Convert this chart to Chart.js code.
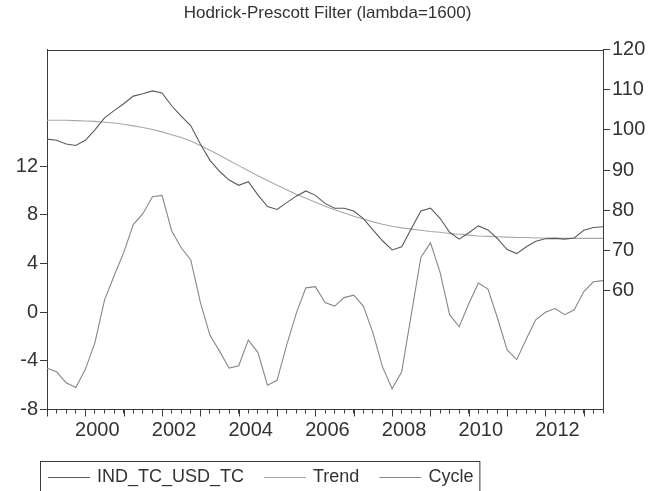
<!DOCTYPE html>
<html><head><meta charset="utf-8">
<script src="https://cdn.jsdelivr.net/npm/chart.js@4/dist/chart.umd.min.js"></script>
<style>html,body{margin:0;padding:0;background:#fff}#wrap{width:655px;height:491px}</style>
</head><body><div id="wrap"><canvas id="c" width="655" height="491"></canvas></div>
<script>
const quarters = [
 '1999Q1','1999Q2','1999Q3','1999Q4','2000Q1','2000Q2','2000Q3','2000Q4',
 '2001Q1','2001Q2','2001Q3','2001Q4','2002Q1','2002Q2','2002Q3','2002Q4',
 '2003Q1','2003Q2','2003Q3','2003Q4','2004Q1','2004Q2','2004Q3','2004Q4',
 '2005Q1','2005Q2','2005Q3','2005Q4','2006Q1','2006Q2','2006Q3','2006Q4',
 '2007Q1','2007Q2','2007Q3','2007Q4','2008Q1','2008Q2','2008Q3','2008Q4',
 '2009Q1','2009Q2','2009Q3','2009Q4','2010Q1','2010Q2','2010Q3','2010Q4',
 '2011Q1','2011Q2','2011Q3','2011Q4','2012Q1','2012Q2','2012Q3','2012Q4',
 '2013Q1','2013Q2','2013Q3'];
const yearLabels = ['2000','2002','2004','2006','2008','2010','2012'];
const leftTicks = [-8,-4,0,4,8,12];
const rightTicks = [60,70,80,90,100,110,120];

const seriesValues = [
 97.7, 97.4, 96.5, 96.1, 97.4, 100.0, 103.0, 104.8, 106.5, 108.4,
 109.0, 109.7, 109.2, 106.0, 103.4, 101.0, 96.5, 92.4, 89.7, 87.5,
 86.2, 87.1, 83.8, 80.9, 80.2, 81.9, 83.5, 84.8, 83.7, 81.7,
 80.5, 80.5, 79.8, 77.9, 75.1, 72.4, 70.1, 70.9, 75.4, 79.8,
 80.5, 78.0, 74.5, 72.8, 74.4, 76.1, 75.1, 72.9, 70.2, 69.2,
 70.9, 72.3, 72.9, 73.0, 72.8, 73.1, 75.0, 75.7, 75.9];
const trendValues = [
 102.4, 102.4, 102.4, 102.3, 102.2, 102.1, 101.9, 101.7, 101.4, 101.0,
 100.6, 100.1, 99.5, 98.8, 98.1, 97.2, 96.1, 94.9, 93.7, 92.4,
 91.1, 89.8, 88.6, 87.4, 86.2, 85.1, 84.0, 83.0, 82.0, 81.0,
 80.1, 79.3, 78.5, 77.8, 77.1, 76.5, 76.0, 75.6, 75.3, 75.0,
 74.7, 74.5, 74.2, 74.0, 73.8, 73.6, 73.5, 73.4, 73.3, 73.2,
 73.2, 73.1, 73.1, 73.1, 73.0, 73.0, 73.0, 73.0, 73.0];
const cycleValues = [
 -4.6, -4.9, -5.8, -6.2, -4.7, -2.5, 1.0, 3.0, 4.9, 7.2,
 8.1, 9.5, 9.6, 6.7, 5.3, 4.3, 0.8, -1.9, -3.2, -4.6,
 -4.4, -2.3, -3.3, -6.0, -5.6, -2.7, -0.1, 2.0, 2.1, 0.8,
 0.5, 1.2, 1.4, 0.5, -1.7, -4.5, -6.3, -4.9, -0.2, 4.5,
 5.7, 3.3, -0.2, -1.2, 0.7, 2.4, 1.9, -0.5, -3.1, -3.9,
 -2.2, -0.6, 0.0, 0.3, -0.2, 0.2, 1.7, 2.5, 2.6];

const FONT = "'Liberation Sans', Arial, Helvetica, sans-serif";
const AX = '#3a3a3a';
const TXT = '#333333';
Chart.defaults.font.family = FONT;
Chart.defaults.color = TXT;

const framePlugin = {
  id: 'frame',
  afterDraw(chart) {
    const {ctx, chartArea: a, scales} = chart;
    ctx.save();
    ctx.strokeStyle = AX; ctx.lineWidth = 1;
    ctx.beginPath();
    ctx.moveTo(a.left, Math.round(a.top) + 0.5);
    ctx.lineTo(a.right, Math.round(a.top) + 0.5);
    ctx.stroke();
    // major (year) tick marks
    const xs = scales.x;
    ctx.beginPath();
    quarters.forEach((q, i) => {
      if (q.endsWith('Q1')) {
        const px = Math.round(xs.getPixelForValue(i)) + 0.5;
        ctx.moveTo(px, a.bottom);
        ctx.lineTo(px, a.bottom + 7);
      }
    });
    ctx.stroke();
    // legend
    const y = 477;
    let x = 48;
    ctx.font = '18px ' + FONT;
    ctx.textBaseline = 'middle';
    ctx.textAlign = 'left';
    chart.data.datasets.forEach((ds) => {
      ctx.strokeStyle = ds.borderColor; ctx.lineWidth = 1.2;
      ctx.beginPath(); ctx.moveTo(x, y + 0.5); ctx.lineTo(x + 42, y + 0.5); ctx.stroke();
      ctx.fillStyle = TXT;
      ctx.fillText(ds.label, x + 49, y);
      x += 49 + ctx.measureText(ds.label).width + 20;
    });
    ctx.strokeStyle = AX; ctx.lineWidth = 1;
    ctx.strokeRect(40.5, 461.5, x - 20 + 6 - 40, 40);
    ctx.restore();
  }
};

new Chart(document.getElementById('c'), {
  type: 'line',
  data: {
    labels: quarters,
    datasets: [
      {label: 'IND_TC_USD_TC', data: seriesValues, yAxisID: 'yR', borderColor: '#5a5a5a', borderWidth: 1.1, pointRadius: 0, tension: 0},
      {label: 'Trend', data: trendValues, yAxisID: 'yR', borderColor: '#a8a8a8', borderWidth: 1.1, pointRadius: 0, tension: 0},
      {label: 'Cycle', data: cycleValues, yAxisID: 'yL', borderColor: '#878787', borderWidth: 1.1, pointRadius: 0, tension: 0}
    ]
  },
  options: {
    responsive: false,
    animation: false,
    devicePixelRatio: 1,
    layout: {padding: {left: 0, right: 0, top: 0, bottom: 29.5}},
    plugins: {
      legend: {display: false},
      tooltip: {enabled: false},
      title: {display: true, text: 'Hodrick-Prescott Filter (lambda=1600)', color: TXT,
        font: {family: FONT, size: 17, weight: 'normal'}, padding: {top: 3, bottom: 26.1}}
    },
    scales: {
      x: {
        type: 'category', offset: false,
        grid: {display: true, drawOnChartArea: false, drawTicks: true, tickLength: 4, tickColor: AX},
        border: {display: true, color: AX},
        ticks: {autoSkip: false, maxRotation: 0, minRotation: 0, padding: 5, labelOffset: 12,
          font: {size: 20}, color: TXT,
          callback(v, i) {
            const q = quarters[i];
            const yr = q.slice(0, 4);
            return (q.endsWith('Q1') && yearLabels.includes(yr)) ? yr : '';
          }},
        afterFit(s) { s.height = 52; }
      },
      yL: {
        type: 'linear', position: 'left', min: -8, max: 21.6,
        grid: {display: true, drawOnChartArea: false, drawTicks: true, tickLength: 7, tickColor: AX},
        border: {display: true, color: AX},
        ticks: {padding: 2, font: {size: 20}, color: TXT},
        afterBuildTicks(s) { s.ticks = leftTicks.map(v => ({value: v})); },
        afterFit(s) { s.width = 47; }
      },
      yR: {
        type: 'linear', position: 'right', min: 30.4, max: 120,
        grid: {display: true, drawOnChartArea: false, drawTicks: true, tickLength: 7, tickColor: AX},
        border: {display: true, color: AX},
        ticks: {padding: 2, font: {size: 20}, color: TXT},
        afterBuildTicks(s) { s.ticks = rightTicks.map(v => ({value: v})); },
        afterFit(s) { s.width = 52; }
      }
    }
  },
  plugins: [framePlugin]
});
</script>
</body></html>
